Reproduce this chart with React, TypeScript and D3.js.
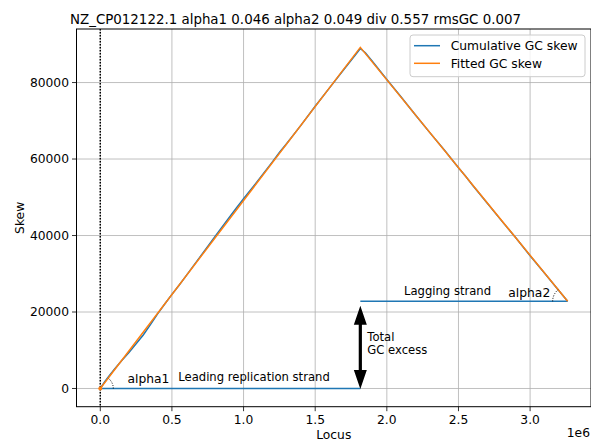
import React from 'react';
import * as d3 from 'd3';

// chart values
const titleText = 'NZ_CP012122.1 alpha1 0.046 alpha2 0.049 div 0.557 rmsGC 0.007';
const xTicks = [0, 0.5e6, 1.0e6, 1.5e6, 2.0e6, 2.5e6, 3.0e6];
const xTickLabels = ['0.0', '0.5', '1.0', '1.5', '2.0', '2.5', '3.0'];
const yTicks = [0, 20000, 40000, 60000, 80000];
const yTickLabels = ['0', '20000', '40000', '60000', '80000'];

// cumulative GC skew (locus in Mb, skew)
const skewLocus = [0, 0.03, 0.06, 0.1, 0.15, 0.2, 0.25, 0.3, 0.35, 0.4, 0.45, 0.5, 0.55, 0.6, 0.7, 0.8, 0.9, 0.95, 1.0, 1.1, 1.2, 1.25, 1.3, 1.4, 1.5, 1.6, 1.7, 1.78, 1.815, 1.85, 1.9, 2.0, 2.1, 2.2, 2.3, 2.4, 2.5, 2.55, 2.6, 2.7, 2.8, 2.9, 3.0, 3.1, 3.2, 3.262];
const skewValues = [0, 1700, 3200, 5100, 7300, 9400, 11700, 14000, 16700, 19500, 22100, 24600, 27000, 29500, 34600, 39700, 44700, 47200, 49600, 54300, 59200, 61700, 64000, 68800, 73800, 78600, 83400, 87200, 88900, 87800, 85500, 80800, 76200, 71500, 66900, 62400, 57700, 55500, 53100, 48500, 43900, 39400, 34700, 30200, 25600, 22800];

// fitted skew: origin, terminus, end
const fitLocus = [0, 1.815, 3.262];
const fitValues = [0, 89200, 22800];

// strand lines
const leadingStrand = [[0, 0], [1.815, 0]];
const laggingStrand = [[1.815, 22800], [3.262, 22800]];
const gcExcess = 22800;

const W = 591;
const H = 441;
const left = 76.5, right = 591, top = 29, bottom = 406.7;
const font = 'DejaVu Sans, sans-serif';

const App = () => {
  const x = d3.scaleLinear().domain([-0.166e6, 3.425e6]).range([left, right]);
  const y = d3.scaleLinear().domain([-4760, 94000]).range([bottom, top]);

  const line = d3.line<number[]>().x(d => x(d[0] * 1e6)).y(d => y(d[1]));
  const skewPts = skewLocus.map((l, i) => [l, skewValues[i]]);
  const fitPts = fitLocus.map((l, i) => [l, fitValues[i]]);

  // alpha arcs (angles in screen space)
  const ox = x(0), oy = y(0);
  const peakX = x(fitLocus[1] * 1e6), peakY = y(fitValues[1]);
  const endX = x(fitLocus[2] * 1e6), endY = y(fitValues[2]);
  const a1 = Math.atan2(oy - peakY, peakX - ox);
  const r1 = 13;
  const arc1 = `M${ox + r1},${oy} A${r1},${r1} 0 0 0 ${ox + r1 * Math.cos(a1)},${oy - r1 * Math.sin(a1)}`;
  const a2 = Math.atan2(endY - peakY, endX - peakX);
  const r2 = 15;
  const arc2 = `M${endX - r2},${endY} A${r2},${r2} 0 0 1 ${endX - r2 * Math.cos(a2)},${endY - r2 * Math.sin(a2)}`;

  // double-headed arrow for GC excess
  const ax = x(fitLocus[1] * 1e6);
  const tTop = y(gcExcess) + 4.5;
  const tBot = y(0) + 0.5;
  const hw = 6.5, hl = 19, sw = 1.6;
  const arrow = [
    [ax, tTop], [ax + hw, tTop + hl], [ax + sw, tTop + hl], [ax + sw, tBot - hl], [ax + hw, tBot - hl],
    [ax, tBot], [ax - hw, tBot - hl], [ax - sw, tBot - hl], [ax - sw, tTop + hl], [ax - hw, tTop + hl],
  ].map(p => p.join(',')).join(' ');

  return (
    <div style={{ position: 'fixed', left: 0, top: 0 }}>
      <svg width={W} height={H} style={{ display: 'block', background: '#fff' }} fontFamily={font}>
        <defs>
          <clipPath id="plot">
            <rect x={left} y={top} width={right - left} height={bottom - top} />
          </clipPath>
        </defs>
        {/* grid */}
        {xTicks.map(t => (
          <line key={'gx' + t} x1={x(t)} x2={x(t)} y1={top} y2={bottom} stroke="#b0b0b0" strokeWidth={0.8} />
        ))}
        {yTicks.map(t => (
          <line key={'gy' + t} x1={left} x2={right} y1={y(t)} y2={y(t)} stroke="#b0b0b0" strokeWidth={0.8} />
        ))}
        <g clipPath="url(#plot)">
          {/* origin marker */}
          <line x1={x(0)} x2={x(0)} y1={top} y2={bottom} stroke="#000" strokeWidth={1.5} strokeDasharray="1.5,1.5" />
          <path d={line(skewPts) || ''} fill="none" stroke="#1f77b4" strokeWidth={1.5} />
          <path d={line(leadingStrand) || ''} fill="none" stroke="#1f77b4" strokeWidth={1.5} />
          <path d={line(laggingStrand) || ''} fill="none" stroke="#1f77b4" strokeWidth={1.5} />
          <path d={line(fitPts) || ''} fill="none" stroke="#ff7f0e" strokeWidth={1.5} />
          <circle cx={ox} cy={oy} r={2} fill="#ff7f0e" />
          <path d={arc1} fill="none" stroke="#000" strokeWidth={1} strokeDasharray="1,1.5" />
          <path d={arc2} fill="none" stroke="#000" strokeWidth={1} strokeDasharray="1,1.5" />
          <polygon points={arrow} fill="#000" />
        </g>
        {/* annotations */}
        <text x={127.5} y={383} fontSize={12.3}>alpha1</text>
        <text x={178.3} y={381} fontSize={11.6}>Leading replication strand</text>
        <text x={404} y={294.5} fontSize={11.6}>Lagging strand</text>
        <text x={508.3} y={296.5} fontSize={12.3}>alpha2</text>
        <text x={367.3} y={340.5} fontSize={11.6}>Total</text>
        <text x={367.3} y={354} fontSize={11.6}>GC excess</text>
        {/* spines */}
        <rect x={left} y={top} width={right - left} height={bottom - top} fill="none" stroke="#000" strokeWidth={1} />
        {/* x axis */}
        {xTicks.map((t, i) => (
          <g key={'xt' + t}>
            <line x1={x(t)} x2={x(t)} y1={bottom} y2={bottom + 4.5} stroke="#000" strokeWidth={0.8} />
            <text x={x(t)} y={423.5} fontSize={12.3} textAnchor="middle">{xTickLabels[i]}</text>
          </g>
        ))}
        {yTicks.map((t, i) => (
          <g key={'yt' + t}>
            <line x1={left - 4.5} x2={left} y1={y(t)} y2={y(t)} stroke="#000" strokeWidth={0.8} />
            <text x={69} y={y(t)} dy="0.36em" fontSize={12.3} textAnchor="end">{yTickLabels[i]}</text>
          </g>
        ))}
        <text x={(left + right) / 2} y={438.5} fontSize={12.3} textAnchor="middle">Locus</text>
        <text x={590} y={437} fontSize={12.3} textAnchor="end">1e6</text>
        <text transform={`translate(23.5,${(top + bottom) / 2}) rotate(-90)`} fontSize={12.3} textAnchor="middle">Skew</text>
        <text x={70} y={23.5} fontSize={13.4}>{titleText}</text>
        {/* legend */}
        <rect x={410} y={35} width={175} height={41.7} rx={3} fill="#fff" fillOpacity={0.8} stroke="#cccccc" strokeWidth={1} />
        <line x1={414} x2={440} y1={45.7} y2={45.7} stroke="#1f77b4" strokeWidth={1.5} />
        <line x1={414} x2={440} y1={63.3} y2={63.3} stroke="#ff7f0e" strokeWidth={1.5} />
        <text x={450.7} y={45.7} dy="0.36em" fontSize={12.3}>Cumulative GC skew</text>
        <text x={450.7} y={63.3} dy="0.36em" fontSize={12.3}>Fitted GC skew</text>
      </svg>
    </div>
  );
};

export default App;
